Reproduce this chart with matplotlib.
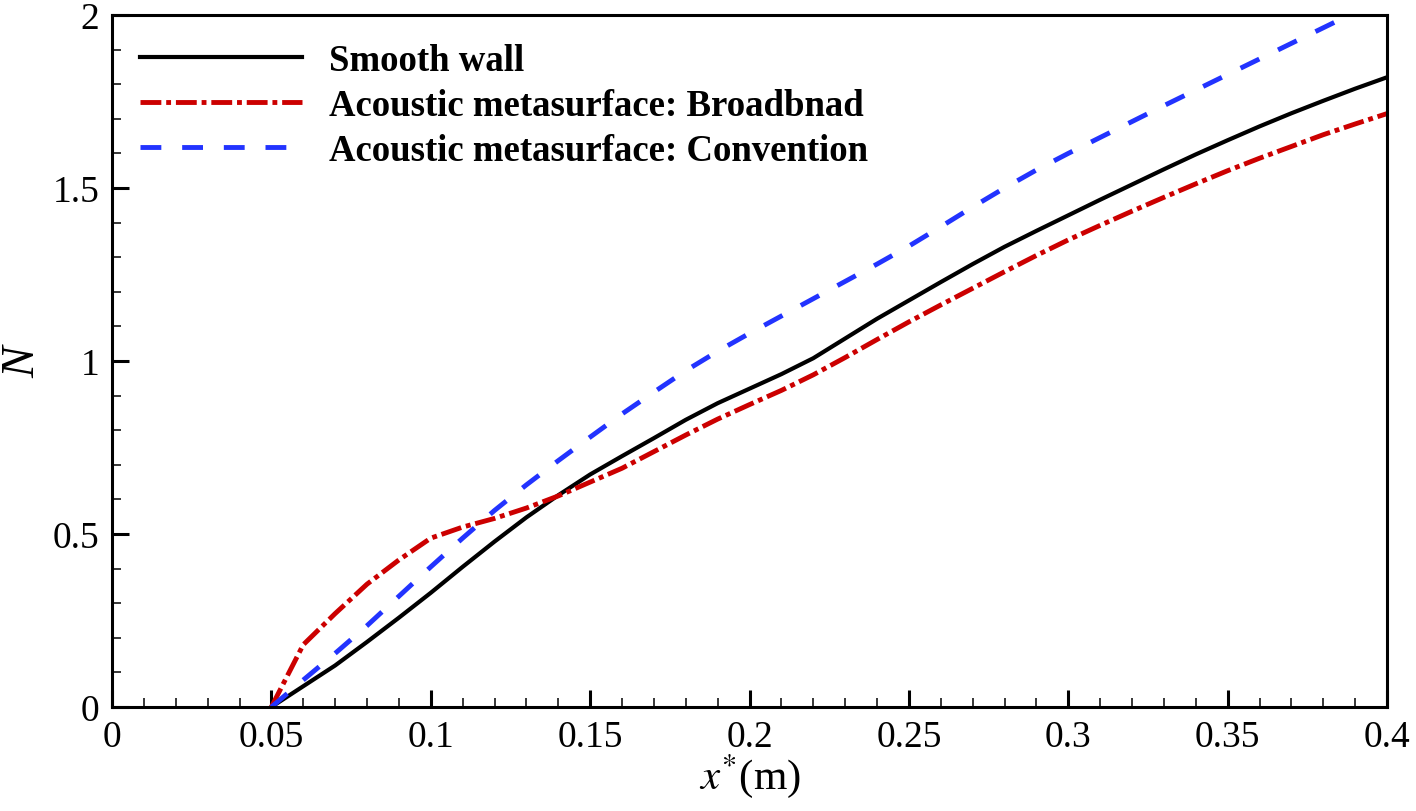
import matplotlib
matplotlib.use("Agg")
import matplotlib.pyplot as plt
from matplotlib.ticker import MultipleLocator, FuncFormatter

plt.rcParams['font.family'] = ['Liberation Serif', 'DejaVu Serif']
plt.rcParams['mathtext.fontset'] = 'stix'
plt.rcParams['lines.scale_dashes'] = False

x_vals = [0.05, 0.06, 0.07, 0.08, 0.09, 0.10, 0.11, 0.12, 0.13, 0.14, 0.15,
          0.16, 0.17, 0.18, 0.19, 0.20, 0.21, 0.22, 0.23, 0.24, 0.25, 0.26,
          0.27, 0.28, 0.29, 0.30, 0.31, 0.32, 0.33, 0.34, 0.35, 0.36, 0.37,
          0.38, 0.39, 0.40]

smooth_wall = [0.0, 0.06, 0.12, 0.188, 0.258, 0.33, 0.405, 0.478, 0.548, 0.612, 0.672,
               0.725, 0.777, 0.83, 0.878, 0.92, 0.962, 1.008, 1.065, 1.122, 1.175, 1.228,
               1.28, 1.33, 1.376, 1.421, 1.466, 1.51, 1.554, 1.597, 1.638, 1.678, 1.716,
               1.752, 1.787, 1.82]

broadband = [0.0, 0.18, 0.27, 0.355, 0.425, 0.488, 0.52, 0.545, 0.575, 0.61, 0.65,
             0.69, 0.738, 0.786, 0.832, 0.874, 0.915, 0.96, 1.01, 1.062, 1.113, 1.162,
             1.21, 1.258, 1.305, 1.35, 1.392, 1.433, 1.473, 1.512, 1.55, 1.586, 1.62,
             1.654, 1.685, 1.715]

conv_x = [0.05, 0.06, 0.07, 0.08, 0.09, 0.10, 0.11, 0.12, 0.13, 0.14, 0.15,
          0.16, 0.17, 0.18, 0.19, 0.20, 0.21, 0.22, 0.23, 0.24, 0.25, 0.26,
          0.27, 0.28, 0.29, 0.30, 0.31, 0.32, 0.33, 0.34, 0.35, 0.36, 0.37,
          0.38, 0.39]
convention = [0.0, 0.078, 0.155, 0.235, 0.32, 0.405, 0.488, 0.568, 0.642, 0.712, 0.78,
              0.847, 0.91, 0.972, 1.028, 1.08, 1.13, 1.18, 1.23, 1.28, 1.332, 1.388,
              1.445, 1.5, 1.552, 1.6, 1.646, 1.692, 1.738, 1.783, 1.828, 1.873, 1.918,
              1.963, 2.008]

labels = ['Smooth wall', 'Acoustic metasurface: Broadbnad', 'Acoustic metasurface: Convention']
x_ticks = [0, 0.05, 0.1, 0.15, 0.2, 0.25, 0.3, 0.35, 0.4]
y_ticks = [0, 0.5, 1, 1.5, 2]

fig = plt.figure(figsize=(14.16, 8.12), dpi=100)
ax = fig.add_axes([112/1416, 1 - 708/812, (1387-112)/1416, (708-16)/812])

ax.plot(x_vals, smooth_wall, color='black', lw=3.0, label=labels[0])
ax.plot(x_vals, broadband, color='#cc0000', lw=3.5, dashes=(15, 3.5, 3.5, 3.5), label=labels[1])
ax.plot(conv_x, convention, color='#2233ff', lw=3.5, dashes=(15, 15), label=labels[2])

ax.set_xlim(0, 0.4)
ax.set_ylim(0, 2)
ax.set_xticks(x_ticks)
ax.set_yticks(y_ticks)
fmt = FuncFormatter(lambda v, p: ('%g' % round(v, 4)))
ax.xaxis.set_major_formatter(fmt)
ax.yaxis.set_major_formatter(fmt)
ax.xaxis.set_minor_locator(MultipleLocator(0.01))
ax.yaxis.set_minor_locator(MultipleLocator(0.1))
ax.tick_params(which='both', direction='in', top=False, right=False, labelsize=27)
ax.tick_params(which='major', length=12, width=2.2, pad=9)
ax.tick_params(which='minor', length=6.5, width=1.1)
for s in ax.spines.values():
    s.set_linewidth(2.2)

ax.set_xlabel(r'$x^{*}$(m)', fontsize=31, labelpad=-2)
ax.set_ylabel('N', fontsize=34, style='italic', labelpad=6)

leg = ax.legend(loc='upper left', frameon=False, prop={'weight': 'bold', 'size': 26.5},
                handlelength=4.4, handletextpad=0.75, labelspacing=0.28,
                borderaxespad=0.35, bbox_to_anchor=(0.0, 1.0))

fig.savefig('out.png', dpi=100)
